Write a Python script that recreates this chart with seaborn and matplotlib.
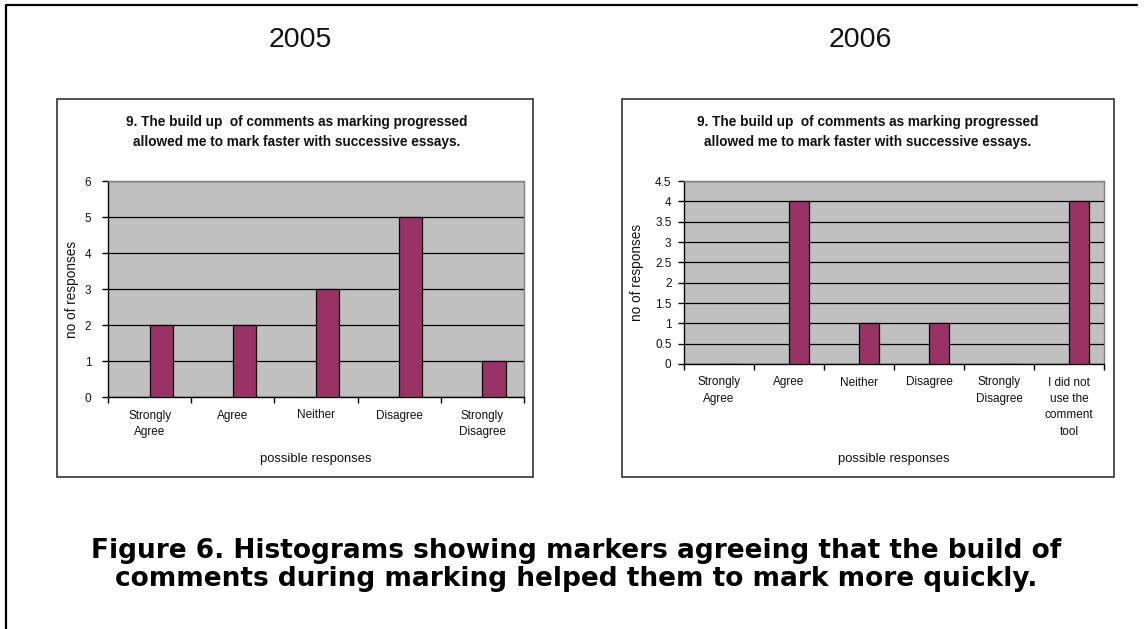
import numpy as np
import pandas as pd
import matplotlib
matplotlib.use("Agg")
import matplotlib.pyplot as plt
from matplotlib.patches import Rectangle
from matplotlib.lines import Line2D
import seaborn as sns

# ---- data ----
categories_2005 = ["Strongly\nAgree", "Agree", "Neither", "Disagree", "Strongly\nDisagree"]
values_2005 = [2, 2, 3, 5, 1]

categories_2006 = ["Strongly\nAgree", "Agree", "Neither", "Disagree", "Strongly\nDisagree",
                   "I did not\nuse the\ncomment\ntool"]
values_2006 = [0, 4, 1, 1, 0, 4]

yticks_2005 = [0, 1, 2, 3, 4, 5, 6]
yticks_2006 = [0, 0.5, 1, 1.5, 2, 2.5, 3, 3.5, 4, 4.5]
ytick_labels_2006 = ["0", "0.5", "1", "1.5", "2", "2.5", "3", "3.5", "4", "4.5"]

chart_title = "9. The build up  of comments as marking progressed\nallowed me to mark faster with successive essays."
caption = ("Figure 6. Histograms showing markers agreeing that the build of\n"
           "comments during marking helped them to mark more quickly.")

sns.set_theme(style="white")
plt.rcParams['font.family'] = ['Liberation Sans', 'DejaVu Sans']

BAR = "#993366"
BG = "#C0C0C0"
TXT = "#111111"

W, H = 1145, 629
fig = plt.figure(figsize=(W / 100, H / 100), dpi=100)
fig.patch.set_facecolor("white")


def fx(x):
    return x / W


def fy(y):
    return 1 - y / H


def make_df(cats, vals):
    rows = []
    for c, v in zip(cats, vals):
        rows.append({"cat": c, "series": "blank", "val": np.nan})
        rows.append({"cat": c, "series": "responses", "val": v})
    return pd.DataFrame(rows)


def draw(rect_px, cats, vals, yticks, ylabels, ylim, xlab_y, ylab_x, ypad):
    x0, y0, x1, y1 = rect_px
    ax = fig.add_axes([fx(x0), fy(y1), (x1 - x0) / W, (y1 - y0) / H])
    ax.set_facecolor(BG)
    df = make_df(cats, vals)
    sns.barplot(data=df, x="cat", y="val", hue="series", order=cats,
                hue_order=["blank", "responses"],
                palette={"blank": BAR, "responses": BAR},
                width=0.56, dodge=True, errorbar=None, legend=False,
                edgecolor="black", linewidth=0.9, saturation=1, ax=ax, zorder=3)
    n = len(cats)
    ax.set_xlim(-0.5, n - 0.5)
    ax.set_ylim(*ylim)
    ax.set_xticks(np.arange(n + 1) - 0.5)
    ax.set_xticklabels([])
    ax.set_xticks(np.arange(n), minor=True)
    ax.set_xticklabels(cats, minor=True, fontsize=8.5, color=TXT, linespacing=1.5)
    ax.tick_params(axis="x", which="major", direction="out", length=4, width=1,
                   color="black", bottom=True)
    ax.tick_params(axis="x", which="minor", length=0, pad=9)
    ax.set_yticks(yticks)
    ax.set_yticklabels(ylabels, fontsize=8.5, color=TXT)
    ax.tick_params(axis="y", direction="out", length=4, width=1, color="black",
                   left=True, pad=ypad)
    ax.yaxis.grid(True, color="black", linewidth=0.9, zorder=1)
    ax.set_axisbelow(True)
    for s in ["left", "bottom"]:
        ax.spines[s].set_color("black")
        ax.spines[s].set_linewidth(1)
    for s in ["top", "right"]:
        ax.spines[s].set_color("#808080")
        ax.spines[s].set_linewidth(1)
    ax.set_xlabel("possible responses", fontsize=9.4, color=TXT)
    ax.set_ylabel("no of responses", fontsize=9.8, color=TXT)
    ax.xaxis.set_label_coords(0.5, (y1 - xlab_y) / (y1 - y0))
    ax.yaxis.set_label_coords((ylab_x - x0) / (x1 - x0), 0.5)
    return ax


# chart boxes
for (bx0, by0, bx1, by1) in [(57, 99, 533, 477), (622, 99, 1114, 477)]:
    fig.patches.append(Rectangle((fx(bx0), fy(by1)), (bx1 - bx0) / W, (by1 - by0) / H,
                                 transform=fig.transFigure, fill=False,
                                 edgecolor="#333333", linewidth=1.2))

draw((108, 181, 524, 397), categories_2005, values_2005, yticks_2005,
     [str(v) for v in yticks_2005], (0, 6), 453, 79, 8)
draw((684, 181, 1104, 364), categories_2006, values_2006, yticks_2006,
     ytick_labels_2006, (0, 4.5), 453, 644, 5)

# titles
fig.text(fx(297), fy(132), chart_title, ha="center", va="center", fontsize=9.8,
         fontweight="bold", color=TXT, linespacing=1.5)
fig.text(fx(868), fy(132), chart_title, ha="center", va="center", fontsize=9.8,
         fontweight="bold", color=TXT, linespacing=1.5)

fig.text(fx(300), fy(40), "2005", ha="center", va="center", fontsize=20.5, color=TXT)
fig.text(fx(860), fy(40), "2006", ha="center", va="center", fontsize=20.5, color=TXT)

fig.text(fx(576), fy(565), caption, ha="center", va="center", fontsize=19,
         fontweight="bold", color="black", linespacing=1.05,
         family=["DejaVu Sans"])

# page border lines (top and left)
fig.add_artist(Line2D([fx(6), fx(1137)], [fy(5), fy(5)], transform=fig.transFigure,
                      color="black", linewidth=1.6))
fig.add_artist(Line2D([fx(6), fx(6)], [fy(5), fy(629)], transform=fig.transFigure,
                      color="black", linewidth=1.6))

fig.savefig("out.png", dpi=100, facecolor="white")
